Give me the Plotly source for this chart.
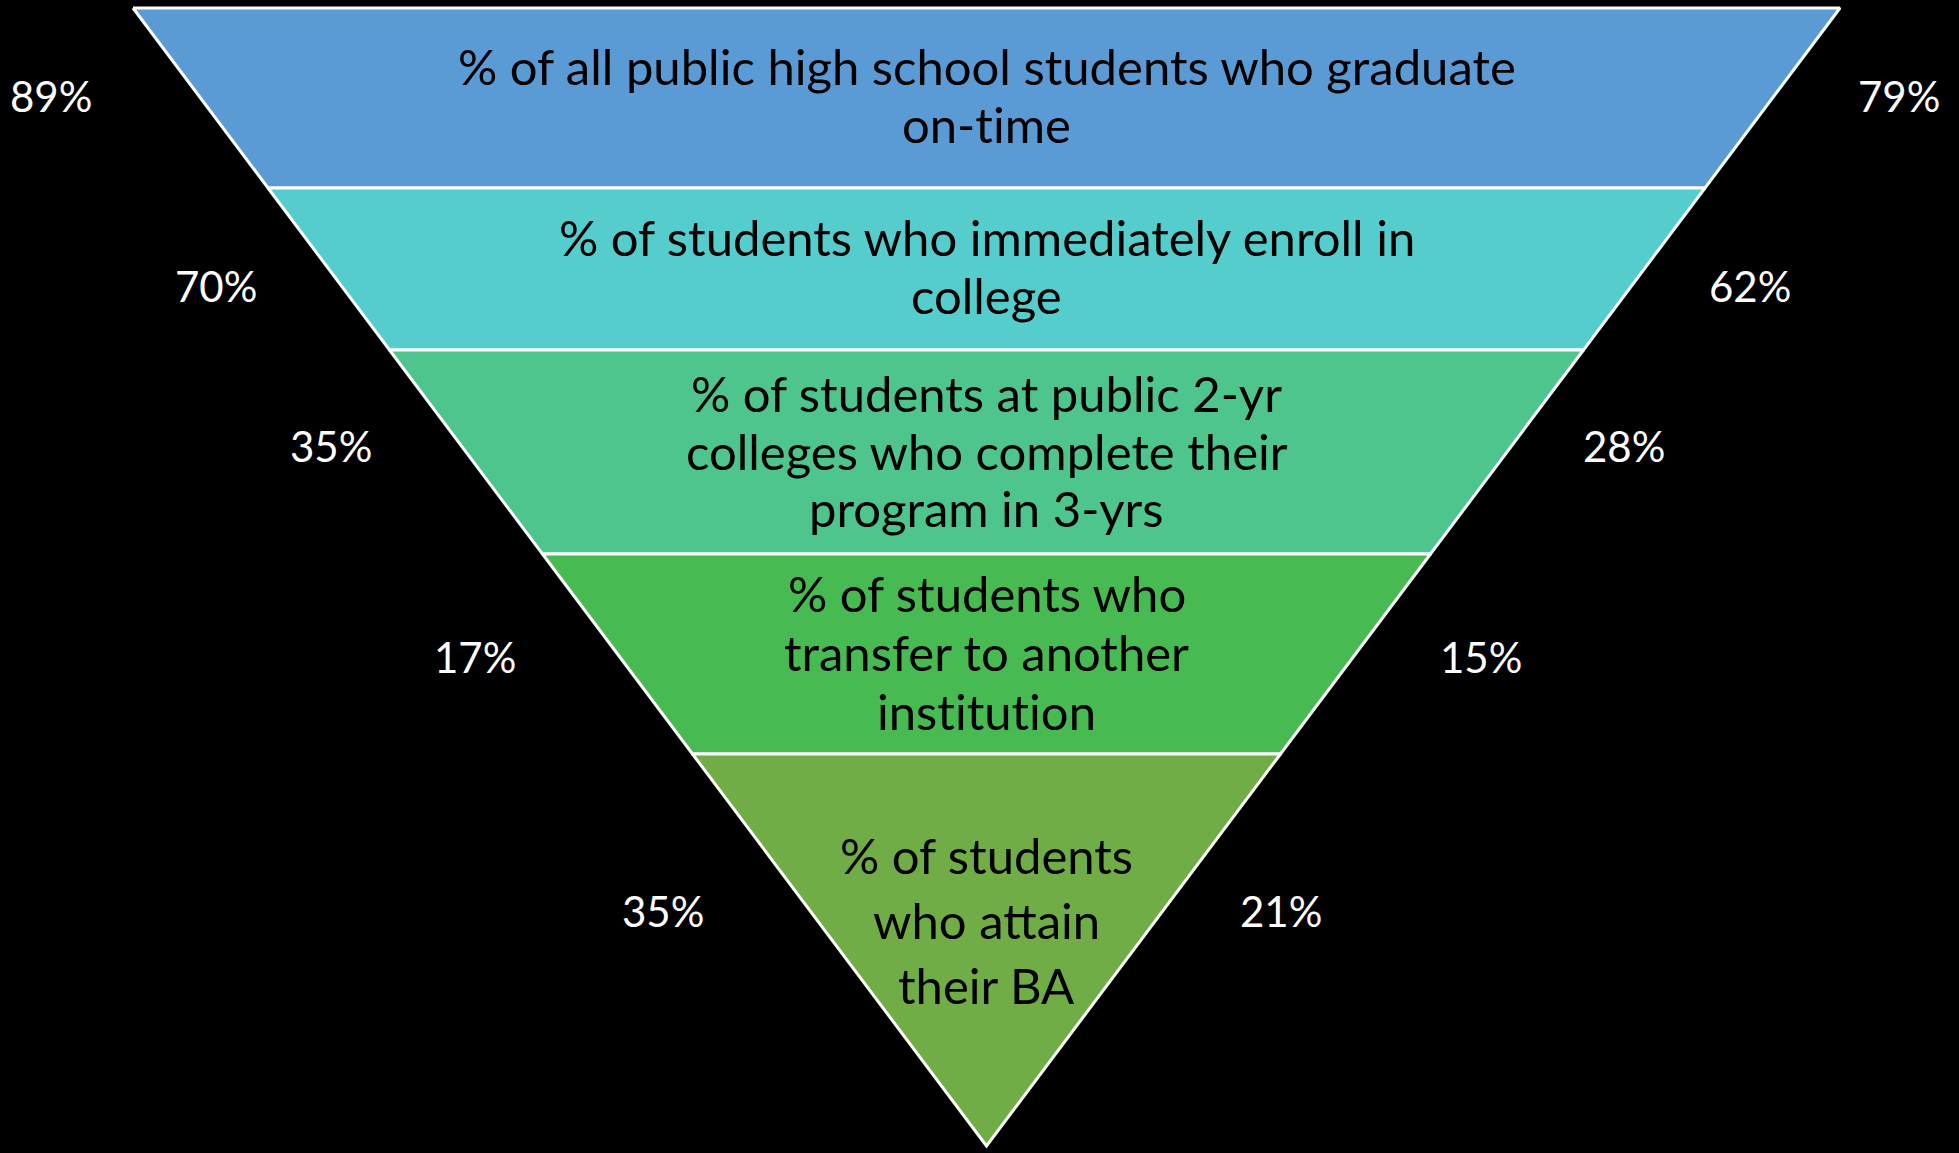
import plotly.graph_objects as go

# ---- data ----
stages = [
    "% of all public high school students who graduate<br>on-time",
    "% of students who immediately enroll in<br>college",
    "% of students at public 2-yr<br>colleges who complete their<br>program in 3-yrs",
    "% of students who<br>transfer to another<br>institution",
    "% of students<br>who attain<br>their BA",
]
left_pct = [89, 70, 35, 17, 35]
right_pct = [79, 62, 28, 15, 21]

# ---- layout / style ----
W, H = 1959, 1153
colors = ["#5B9BD5", "#55CDCD", "#4EC58D", "#47BB52", "#70AD47"]
top_y, apex_y = 8, 1146
top_left_x, top_right_x, apex_x = 133, 1840, 986.5
band_edges_y = [8, 188, 350, 554, 754, 1146]
text_center_y = [95, 266, 450.5, 652, 920]
line_gap = [57.5, 57.5, 57.5, 58.7, 65]
pct_y = [96, 286, 446, 657, 911]
left_lbl_x = [51, 216, 331, 475, 663]
right_lbl_x = [1899, 1750, 1624, 1481, 1281]
FONT = "Lato"
FS_TEXT = 49
FS_PCT = 42


def left_x(y):
    return top_left_x + (apex_x - top_left_x) * (y - top_y) / (apex_y - top_y)


def right_x(y):
    return top_right_x + (apex_x - top_right_x) * (y - top_y) / (apex_y - top_y)


def no_lig(s):
    return s.replace("ti", "t\u200ci")


fig = go.Figure()
for i in range(len(stages)):
    y0, y1 = band_edges_y[i], band_edges_y[i + 1]
    xs = [left_x(y0), right_x(y0), right_x(y1), left_x(y1), left_x(y0)]
    ys = [y0, y0, y1, y1, y0]
    fig.add_trace(go.Scatter(
        x=xs, y=ys, mode="lines", fill="toself", fillcolor=colors[i],
        line=dict(color="white", width=3), hoverinfo="skip", showlegend=False,
    ))
    lines = stages[i].split("<br>")
    n = len(lines)
    for k, ln in enumerate(lines):
        yy = text_center_y[i] + (k - (n - 1) / 2) * line_gap[i]
        fig.add_annotation(
            x=apex_x, y=yy, text=no_lig(ln), showarrow=False,
            font=dict(family=FONT, size=FS_TEXT, color="black"), align="center",
            xanchor="center", yanchor="middle",
        )
    fig.add_annotation(
        x=left_lbl_x[i], y=pct_y[i], text=f"{left_pct[i]}%", showarrow=False,
        font=dict(family=FONT, size=FS_PCT, color="white"), xanchor="center", yanchor="middle",
    )
    fig.add_annotation(
        x=right_lbl_x[i], y=pct_y[i], text=f"{right_pct[i]}%", showarrow=False,
        font=dict(family=FONT, size=FS_PCT, color="white"), xanchor="center", yanchor="middle",
    )

fig.update_layout(
    width=W, height=H, margin=dict(l=0, r=0, t=0, b=0),
    paper_bgcolor="black", plot_bgcolor="black",
    xaxis=dict(range=[0, W], visible=False, fixedrange=True),
    yaxis=dict(range=[H, 0], visible=False, fixedrange=True),
    showlegend=False,
)
fig.write_html("out.html", config={"displayModeBar": False})
